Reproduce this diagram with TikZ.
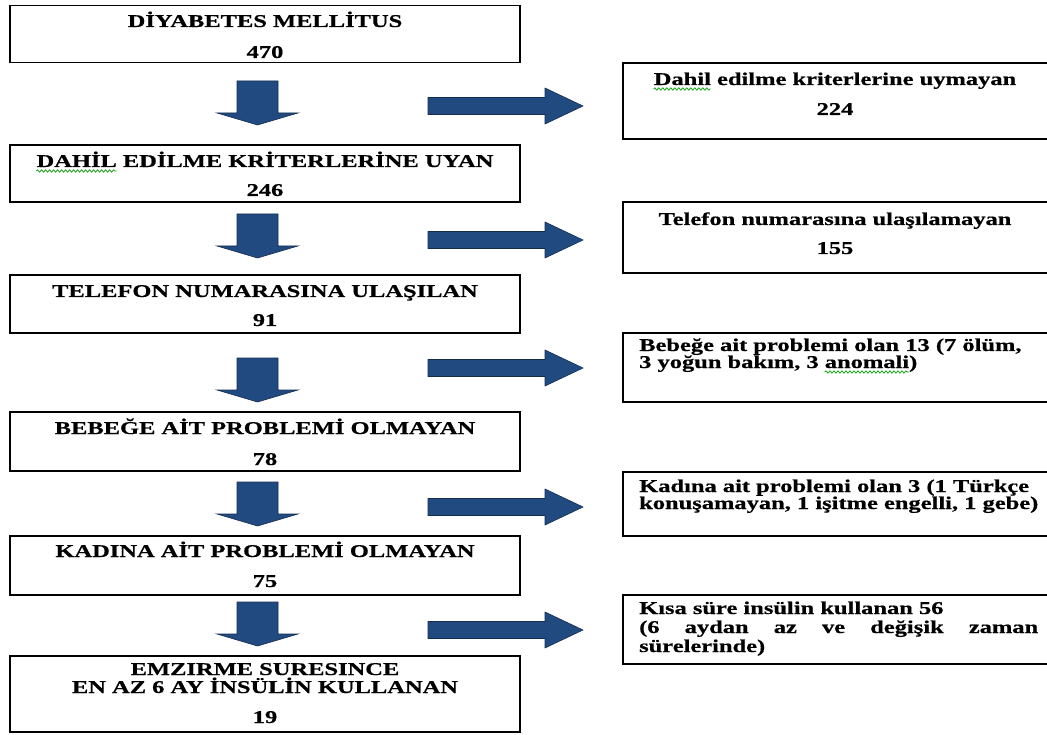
\documentclass[tikz,border=0pt]{standalone}
\usepackage{fontspec}
\setmainfont{Liberation Serif}[FakeStretch=1.36,FakeBold=0.6]
\usetikzlibrary{decorations.pathmorphing}
\definecolor{arrowblue}{RGB}{33,75,128}
\definecolor{arrowedge}{RGB}{20,45,80}
\definecolor{spellgreen}{RGB}{40,170,40}
\newlength\wUpDahil
\newlength\wLoDahil
\newlength\wPreAnom
\newlength\wAnom
\newcommand{\dtxt}{\bfseries\fontsize{18}{18}\selectfont}
\begin{document}
\settowidth{\wUpDahil}{\dtxt DAHİL}
\settowidth{\wLoDahil}{\dtxt Dahil}
\settowidth{\wPreAnom}{\dtxt 3 yoğun bakım, 3 }
\settowidth{\wAnom}{\dtxt anomali}
\begin{tikzpicture}[x=1pt,y=-1pt,
  lbox/.style={draw, line width=1.6pt, minimum width=510pt, inner sep=0pt},
  rbox/.style={draw, line width=1.6pt, minimum width=437pt, inner sep=0pt},
  txt/.style={font=\dtxt, inner sep=0pt, anchor=base},
  rtxt/.style={font=\dtxt, inner sep=0pt, anchor=base west},
  blockarrow/.style={fill=arrowblue, draw=arrowedge, line width=0.6pt, line join=miter},
  wavyline/.style={draw=spellgreen, line width=0.9pt, decorate, decoration={snake, amplitude=1.1pt, segment length=4pt}}
]
\fill[white] (0,0) rectangle (1047,735);
\useasboundingbox (0,0) rectangle (1047,735);

% left boxes
\node[lbox, minimum height=57pt] (b1) at (265,34) {};
\node[lbox, minimum height=57pt] (b2) at (265,173.5) {};
\node[lbox, minimum height=58pt] (b3) at (265,304) {};
\node[lbox, minimum height=59pt] (b4) at (265,441.5) {};
\node[lbox, minimum height=59pt] (b5) at (265,565.5) {};
\node[lbox, minimum height=76pt] (b6) at (265,694) {};

% right boxes (their right edges run off the page)
\begin{scope}
\clip (0,0) rectangle (1047,735);
\node[rbox, minimum height=76pt] (r1) at (841.5,101) {};
\node[rbox, minimum height=71pt] (r2) at (841.5,237.5) {};
\node[rbox, minimum height=69pt] (r3) at (841.5,367.5) {};
\node[rbox, minimum height=64pt] (r4) at (841.5,504) {};
\node[rbox, minimum height=69pt] (r5) at (841.5,629.5) {};
\end{scope}

% left texts
\node[txt] (b1a) at (265,27) {DİYABETES MELLİTUS};
\node[txt] (b1b) at (265,58) {470};
\node[txt] (b2a) at (265,167) {DAHİL EDİLME KRİTERLERİNE UYAN};
\node[txt] (b2b) at (265,196) {246};
\node[txt] (b3a) at (265,297) {TELEFON NUMARASINA ULAŞILAN};
\node[txt] (b3b) at (265,326) {91};
\node[txt] (b4a) at (265,434) {BEBEĞE AİT PROBLEMİ OLMAYAN};
\node[txt] (b4b) at (265,465) {78};
\node[txt] (b5a) at (265,557) {KADINA AİT PROBLEMİ OLMAYAN};
\node[txt] (b5b) at (265,587) {75};
\node[txt] (b6a) at (265,675) {EMZIRME SURESINCE};
\node[txt] (b6b) at (265,693) {EN AZ 6 AY İNSÜLİN KULLANAN};
\node[txt] (b6c) at (265,723) {19};

% right texts
\node[txt] (r1a) at (835,85) {Dahil edilme kriterlerine uymayan};
\node[txt] (r1b) at (835,115) {224};
\node[txt] (r2a) at (835,225) {Telefon numarasına ulaşılamayan};
\node[txt] (r2b) at (835,254) {155};
\node[rtxt] (r3a) at (639,351) {Bebeğe ait problemi olan 13 (7 ölüm,};
\node[rtxt] (r3b) at (639,368) {3 yoğun bakım, 3 anomali)};
\node[rtxt] (r4a) at (639,492) {Kadına ait problemi olan 3 (1 Türkçe};
\node[rtxt] (r4b) at (639,509) {konuşamayan, 1 işitme engelli, 1 gebe)};
\node[rtxt] (r5a) at (639,614) {Kısa süre insülin kullanan 56};
\node[rtxt] (r5b) at (639,633) {\makebox[399pt][s]{(6 aydan az ve değişik zaman}};
\node[rtxt] (r5c) at (639,652) {sürelerinde)};

% spell-check wavy underlines
\path (b2a.base west) ++(0,4) coordinate (u1s) ++(\wUpDahil,0pt) coordinate (u1e);
\draw[wavyline] (u1s) -- (u1e);
\path (r1a.base west) ++(0,4) coordinate (u2s) ++(\wLoDahil,0pt) coordinate (u2e);
\draw[wavyline] (u2s) -- (u2e);
\path (r3b.base west) ++(\wPreAnom,-4pt) coordinate (u3s) ++(\wAnom,0pt) coordinate (u3e);
\draw[wavyline] (u3s) -- (u3e);

% down block arrows
\foreach \t in {81,214,358,482,602}{
  \draw[blockarrow] (237,\t) -- (278,\t) -- (278,\t+32) -- (298,\t+32) -- (257.5,\t+44)
     -- (217,\t+32) -- (237,\t+32) -- cycle;
}
% right block arrows
\foreach \c in {106,240,368,507,630}{
  \draw[blockarrow] (428,\c-8.5) -- (545,\c-8.5) -- (545,\c-18) -- (583,\c)
     -- (545,\c+18) -- (545,\c+8.5) -- (428,\c+8.5) -- cycle;
}
\end{tikzpicture}
\end{document}
